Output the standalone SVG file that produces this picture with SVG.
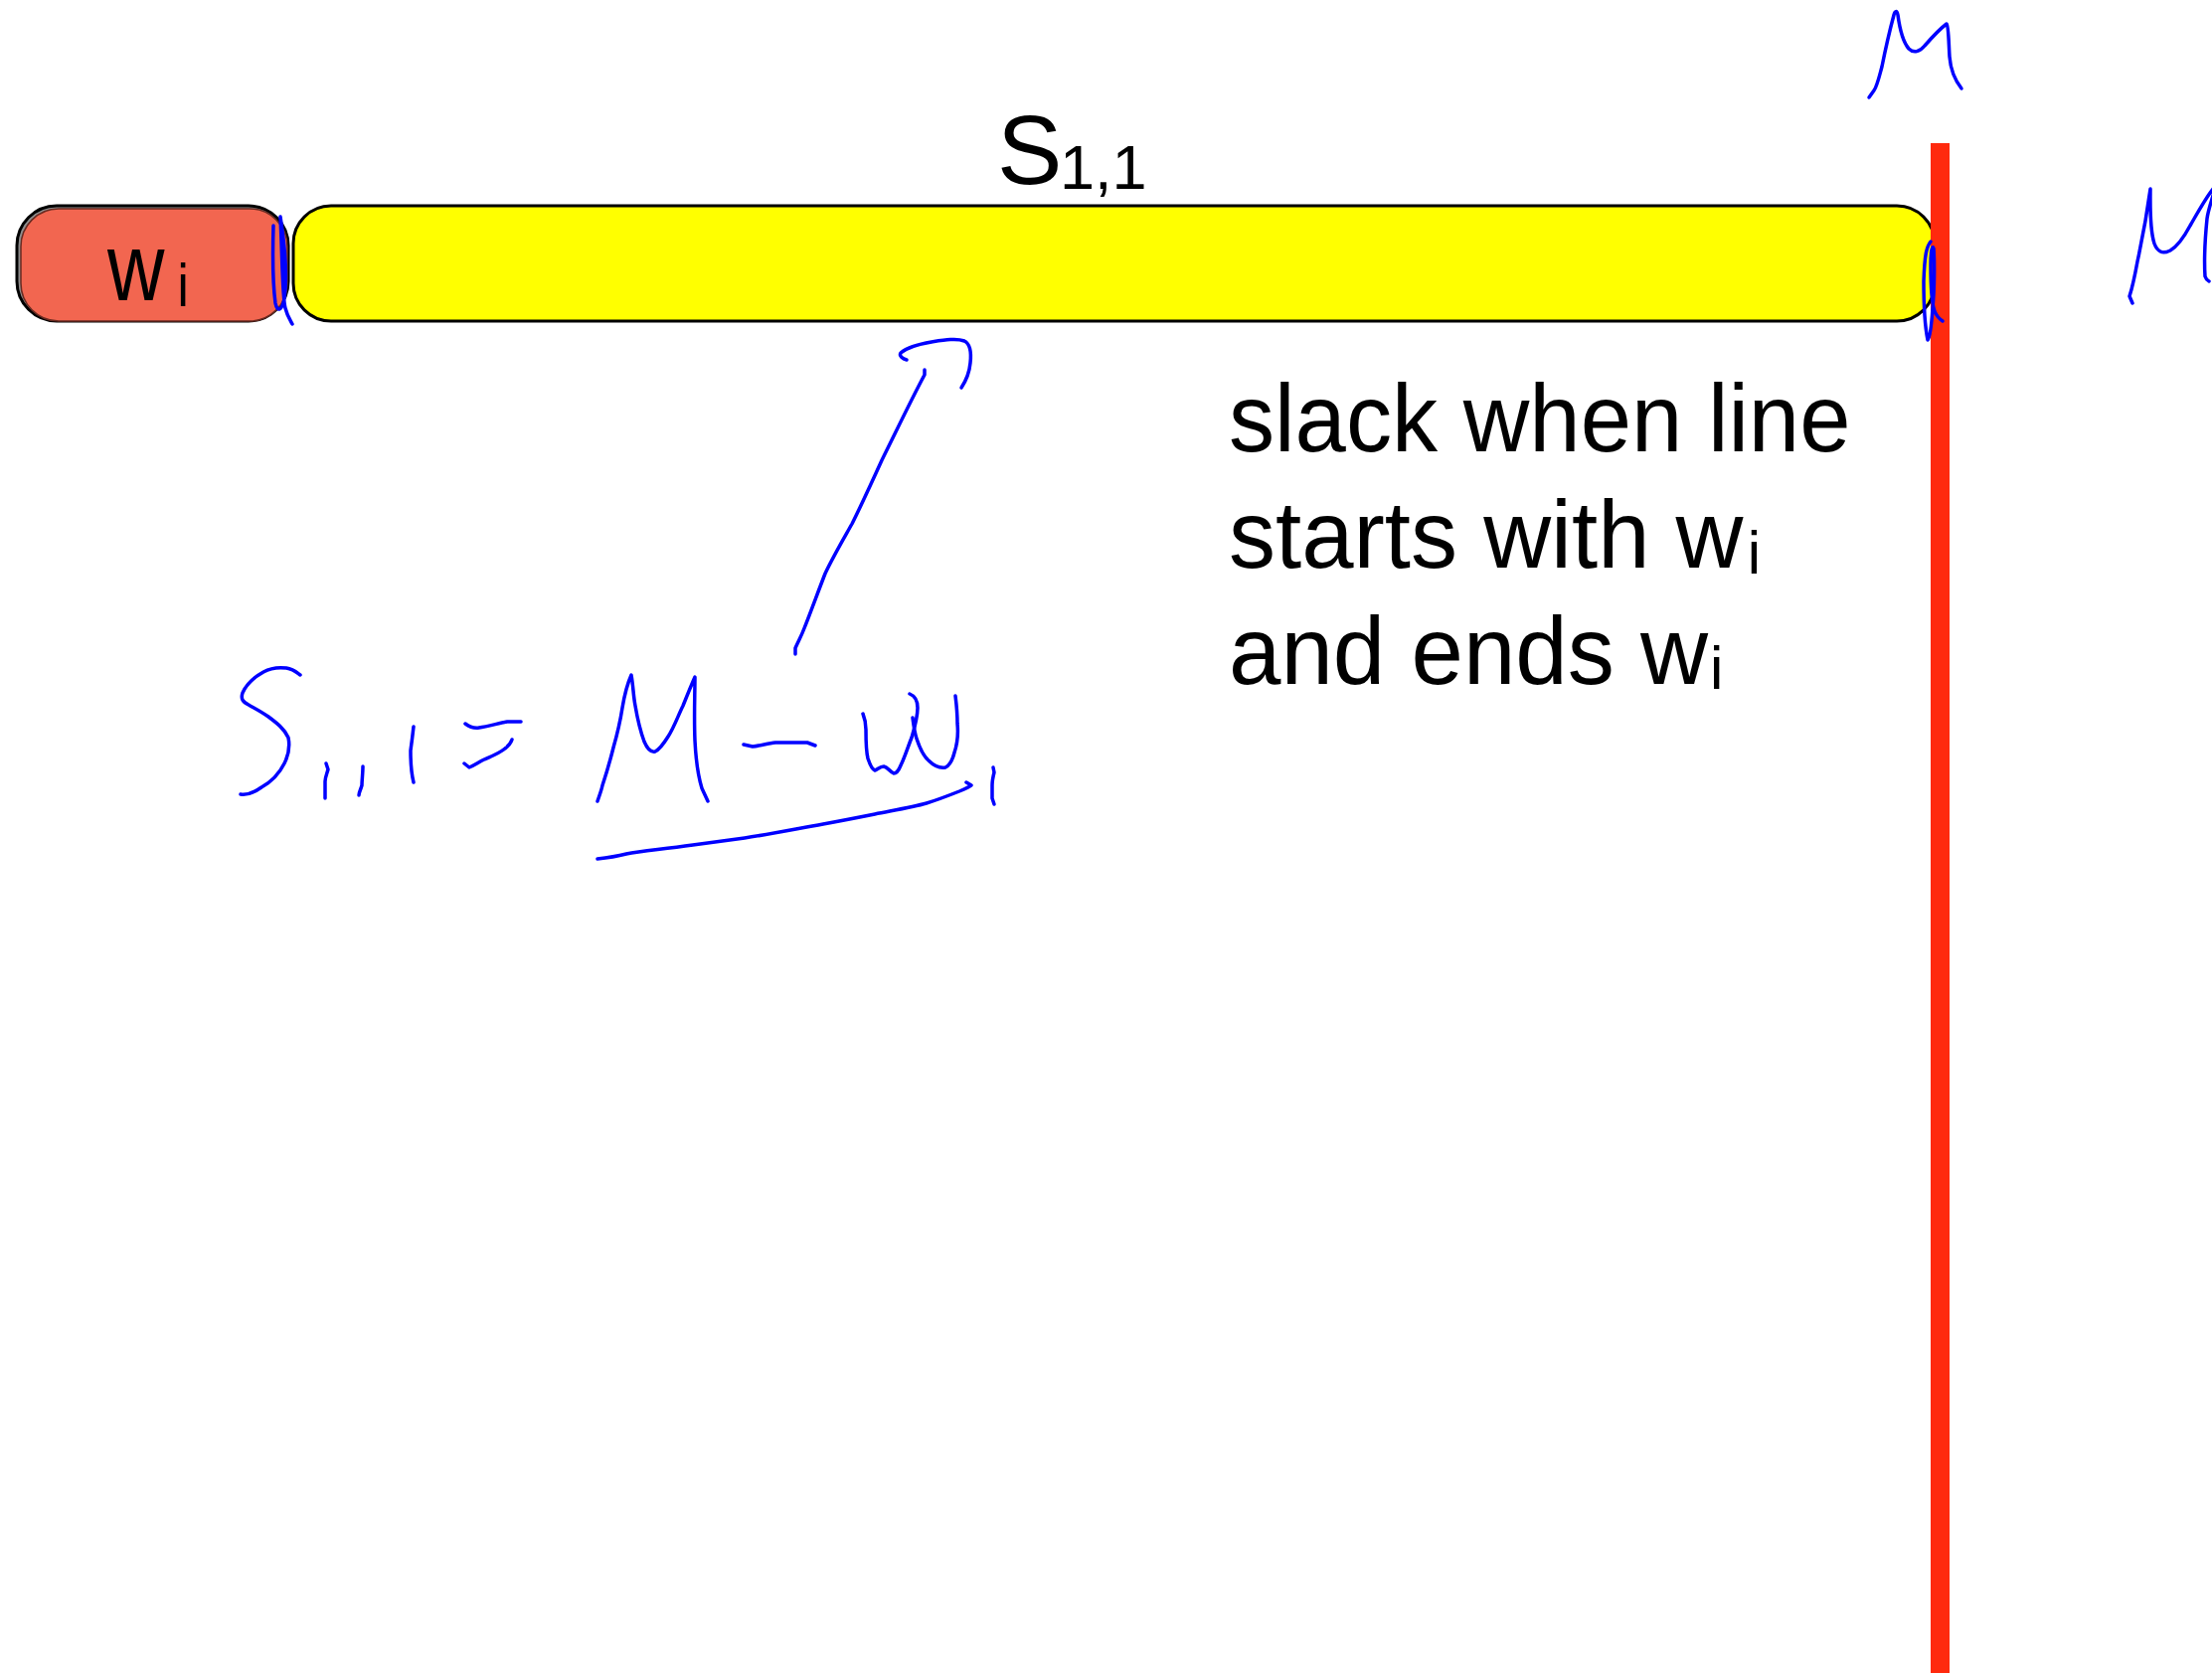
<svg xmlns="http://www.w3.org/2000/svg" width="2225" height="1683" viewBox="0 0 2225 1683">
  <style>
    .txt { font-family: "Liberation Sans", Arial, Helvetica, sans-serif; fill: #000; }
    .ink { fill: none; stroke: #0000FF; stroke-width: 3.5; stroke-linecap: round; stroke-linejoin: round; }
    .box { stroke: #000; stroke-width: 3; }
  </style>
  <rect width="2225" height="1683" fill="#FFFFFF"/>

  <!-- word w_i -->
  <g id="word-wi">
    <rect x="17" y="207" width="273" height="116" rx="40" fill="#8E8E8E" class="box"/>
    <rect x="21" y="210" width="268" height="113" rx="38" fill="#F26650" stroke="#6B2A20" stroke-width="1.5"/>
    <text class="txt" font-size="97" transform="translate(108,302) scale(0.82,1)">w<tspan font-size="62" x="86" y="6">i</tspan></text>
  </g>

  <!-- slack bar S_1,1 -->
  <g id="slack-bar">
    <rect x="295" y="207" width="1651" height="116" rx="38" fill="#FFFF00" class="box"/>
    <text class="txt" font-size="98" x="1003" y="185">S<tspan font-size="63" x="1066" y="190">1,1</tspan></text>
  </g>

  <!-- line width limit M -->
  <g id="margin-line">
    <rect x="1942" y="144" width="19" height="1539" fill="#FF2A0E"/>
  </g>

  <!-- explanation -->
  <g id="note">
    <text class="txt" font-size="97" transform="translate(1236,454) scale(0.951,1)">slack when line</text>
    <text class="txt" font-size="97" transform="translate(1236,571) scale(0.97,1)">starts with w<tspan font-size="62" x="538" y="6">i</tspan></text>
    <text class="txt" font-size="97" transform="translate(1236,688) scale(0.972,1)">and ends w<tspan font-size="62" x="498" y="5">i</tspan></text>
  </g>

  <!-- handwritten annotations -->
  <g id="ink">
    <!-- boundary ticks -->
    <path class="ink" d="M275 227 C274 260,275 290,277 305 C279 315,284 312,286 300 C289 280,287 250,282 218 C284 260,284 300,287 310 C289 318,292 322,294 326"/>
    <path class="ink" d="M1942 243 C1938 248,1936 255,1935 283 C1935 305,1936 327,1939 342 C1941 340,1943 325,1944 310 C1946 290,1946 262,1945 250 C1944 246,1942 250,1942 267 C1942 290,1943 305,1946 313 C1948 318,1951 321,1954 323"/>
    <!-- M above the limit -->
    <path class="ink" d="M1880 98 L1885 91 C1888 87,1890 78,1893 67 C1896 52,1901 30,1905 15 C1906 11,1908 10,1909 15 C1911 30,1914 42,1920 49 C1925 54,1931 52,1936 46 C1943 38,1950 30,1958 24 C1960 26,1960 40,1961 57 C1962 70,1966 80,1973 89"/>
    <!-- M at the right edge -->
    <path class="ink" d="M2145 305 L2142 298 C2143 295,2146 285,2150 263 C2155 240,2160 212,2163 190 C2163 200,2162 230,2167 245 C2170 253,2175 256,2183 252 C2190 248,2196 240,2203 227 C2210 215,2218 200,2226 190 C2230 190,2222 205,2220 220 C2218 240,2217 262,2218 278 C2219 281,2220 282,2222 283"/>
    <!-- pointer to slack -->
    <path class="ink" d="M800 658 L800 652 C803 645,806 640,809 632 C815 617,823 595,830 577 C838 560,848 543,857 527 C867 507,877 485,887 463 C900 437,915 405,930 377 L930 372"/>
    <path class="ink" d="M912 362 C908 361,904 358,906 355 C913 349,925 346,937 344 C950 342,962 340,970 343 C976 346,977 356,976 365 C975 376,971 384,967 390"/>
    <!-- S_1,1 = M - w_1 -->
    <path class="ink" d="M302 679 C298 676,295 673,288 672 C280 671,272 672,265 676 C256 681,248 688,244 697 C242 703,244 706,250 709 C257 713,263 716,270 721 C278 727,286 733,290 742 C292 752,290 760,286 768 C281 778,272 787,263 792 C256 797,248 800,242 799"/>
    <path class="ink" d="M328 768 L330 774 C329 778,327 782,327 786 L327 803"/>
    <path class="ink" d="M365 771 C365 778,364 785,364 790 C363 794,361 797,361 800"/>
    <path class="ink" d="M416 731 C415 740,414 748,413 755 C413 765,413 775,416 787"/>
    <path class="ink" d="M468 728 C472 731,476 733,482 732 C490 731,500 728,510 726 L524 726"/>
    <path class="ink" d="M467 768 L472 772 C477 770,481 767,487 764 C494 761,502 758,508 753 C512 750,514 747,515 744"/>
    <path class="ink" d="M601 806 C603 800,605 795,606 790 C610 778,614 764,617 752 C621 738,624 725,626 712 C628 700,631 688,635 679 C637 690,637 700,639 710 C641 722,644 735,648 746 C651 753,655 757,659 756 C663 754,667 749,672 741 C678 732,682 720,687 710 C691 700,695 690,699 681 C699 700,698 720,699 745 C700 765,702 780,706 793 L712 806"/>
    <path class="ink" d="M748 749 L757 751 C765 750,772 748,780 747 L812 747 L820 750"/>
    <path class="ink" d="M868 718 C870 723,871 728,871 734 C871 745,871 755,873 763 C875 769,877 774,880 775 C883 774,885 771,889 771 C893 772,895 776,899 778 C902 778,904 775,906 770 C910 762,913 752,917 742 C920 732,923 722,923 712 C923 705,920 700,915 698"/>
    <path class="ink" d="M918 722 C919 730,920 737,922 743 C925 752,928 760,934 765 C939 770,945 773,951 772 C955 770,958 765,960 757 C963 748,964 738,963 728 C963 718,962 708,961 700"/>
    <path class="ink" d="M999 772 L1000 777 C999 781,998 785,998 790 L998 803 L1000 809"/>
    <path class="ink" d="M601 864 C610 863,618 862,630 859 C645 856,660 855,697 850 C720 847,735 845,749 843 C775 839,800 834,828 829 C850 825,865 822,880 819 C900 815,918 812,932 808 C945 804,955 800,965 796 C972 793,976 791,977 790 L972 787"/>
  </g>
</svg>
